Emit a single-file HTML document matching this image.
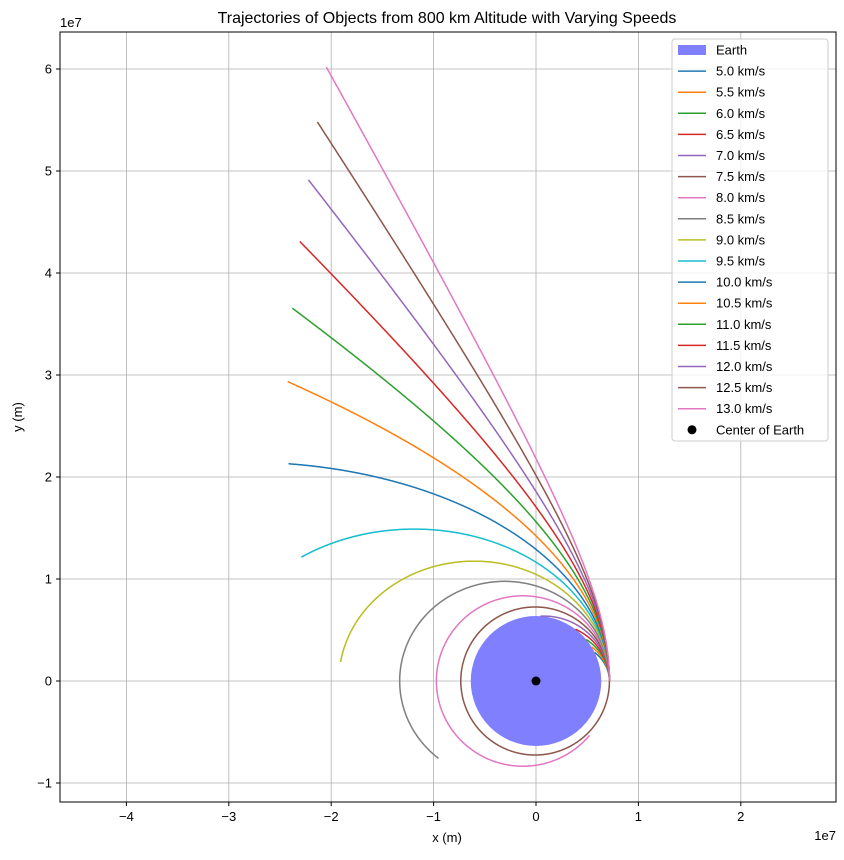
<!DOCTYPE html>
<html><head><meta charset="utf-8"><style>
body{margin:0;background:#fff;font-family:"Liberation Sans",sans-serif}
svg text{font-family:"Liberation Sans",sans-serif;fill:#000}
</style></head><body>
<svg id="chart" width="844" height="855" xmlns="http://www.w3.org/2000/svg">
<rect width="844" height="855" fill="#fff"/>
<text x="447" y="23" font-size="16" text-anchor="middle">Trajectories of Objects from 800 km Altitude with Varying Speeds</text>
<g id="grid"></g>
<g id="plot"></g>
<rect x="60" y="32" width="776" height="770" fill="none" stroke="#000" stroke-width="1"/>
<g id="ticks"></g>
<text x="447" y="842" font-size="13" text-anchor="middle">x (m)</text>
<text x="22" y="417" font-size="13" text-anchor="middle" transform="rotate(-90 22 417)">y (m)</text>
<text x="60" y="27" font-size="13">1e7</text>
<text x="836" y="840" font-size="13" text-anchor="end">1e7</text>
<g id="legend"></g>
</svg>
<script>
const speedsKms=[5.0,5.5,6.0,6.5,7.0,7.5,8.0,8.5,9.0,9.5,10.0,10.5,11.0,11.5,12.0,12.5,13.0];
const xTicks=[-4,-3,-2,-1,0,1,2];
const yTicks=[-1,0,1,2,3,4,5,6];
const colors=["#1f77b4","#ff7f0e","#2ca02c","#d62728","#9467bd","#8c564b","#e377c2","#7f7f7f","#bcbd22","#17becf"];
const MU=3.986e14, RE=6.371e6, ALT=8e5, TMAX=7000, DT=5;
const X0=536, Y0=681, SX=102.4, SY=102;
const px=x=>X0+x/1e7*SX, py=y=>Y0-y/1e7*SY;
const NS="http://www.w3.org/2000/svg";
function mk(tag,attrs,parent){const e=document.createElementNS(NS,tag);for(const k in attrs)e.setAttribute(k,attrs[k]);parent.appendChild(e);return e;}
const fmt=t=>t<0?'\u2212'+(-t):String(t);
const grid=document.getElementById('grid'),ticks=document.getElementById('ticks'),plot=document.getElementById('plot'),leg=document.getElementById('legend');
xTicks.forEach(t=>{const x=px(t*1e7);
 const g=mk('line',{x1:x,x2:x,y1:32,y2:802,stroke:'#b0b0b0','stroke-width':0.8},grid);
 
 mk('line',{x1:x,x2:x,y1:802,y2:806,stroke:'#000'},ticks);
 const l=mk('text',{x:x,y:821,'font-size':13,'text-anchor':'middle'},ticks);l.textContent=fmt(t);
 });
yTicks.forEach(t=>{const y=py(t*1e7);
 const g=mk('line',{x1:60,x2:836,y1:y,y2:y,stroke:'#b0b0b0','stroke-width':0.8},grid);
 
 mk('line',{x1:56,x2:60,y1:y,y2:y,stroke:'#000'},ticks);
 const l=mk('text',{x:52,y:y+4.5,'font-size':13,'text-anchor':'end'},ticks);l.textContent=fmt(t);
 });
const earth=mk('ellipse',{cx:px(0),cy:py(0),rx:RE/1e7*SX,ry:RE/1e7*SY,fill:'#8080ff'},plot);

function acc(x,y){const r=Math.hypot(x,y),f=-MU/(r*r*r);return [f*x,f*y];}
speedsKms.forEach((v,i)=>{
 let s=[RE+ALT,0,0,v*1000];const pts=[];
 for(let t=0;t<=TMAX;t+=DT){
  if(Math.hypot(s[0],s[1])<RE)break;
  pts.push(px(s[0]).toFixed(1)+','+py(s[1]).toFixed(1));
  const d=st=>{const a=acc(st[0],st[1]);return [st[2],st[3],a[0],a[1]];};
  const k1=d(s),k2=d(s.map((q,j)=>q+k1[j]*DT/2)),k3=d(s.map((q,j)=>q+k2[j]*DT/2)),k4=d(s.map((q,j)=>q+k3[j]*DT));
  s=s.map((q,j)=>q+DT/6*(k1[j]+2*k2[j]+2*k3[j]+k4[j]));
 }
 const pl=mk('polyline',{points:pts.join(' '),fill:'none',stroke:colors[i%10],'stroke-width':1.5},plot);
 
});
const c=mk('circle',{cx:px(0),cy:py(0),r:4.5,fill:'#000'},plot);

const box=mk('rect',{x:672,y:39,width:156,height:402,rx:3,fill:'#fff','fill-opacity':0.8,stroke:'#ccc'},leg);

const labels=['Earth'].concat(speedsKms.map(v=>v.toFixed(1)+' km/s')).concat(['Center of Earth']);
labels.forEach((lab,i)=>{const y=50+i*21.1;
 if(i===0){mk('rect',{x:678,y:y-5,width:28,height:10,fill:'#8080ff'},leg);}
 else if(i===labels.length-1){mk('circle',{cx:692,cy:y,r:4.5,fill:'#000'},leg);}
 else mk('line',{x1:678,x2:706,y1:y,y2:y,stroke:colors[(i-1)%10],'stroke-width':1.5},leg);
 const t=mk('text',{x:716,y:y+4.5,'font-size':13},leg);t.textContent=lab;
 });
</script>
</body></html>
